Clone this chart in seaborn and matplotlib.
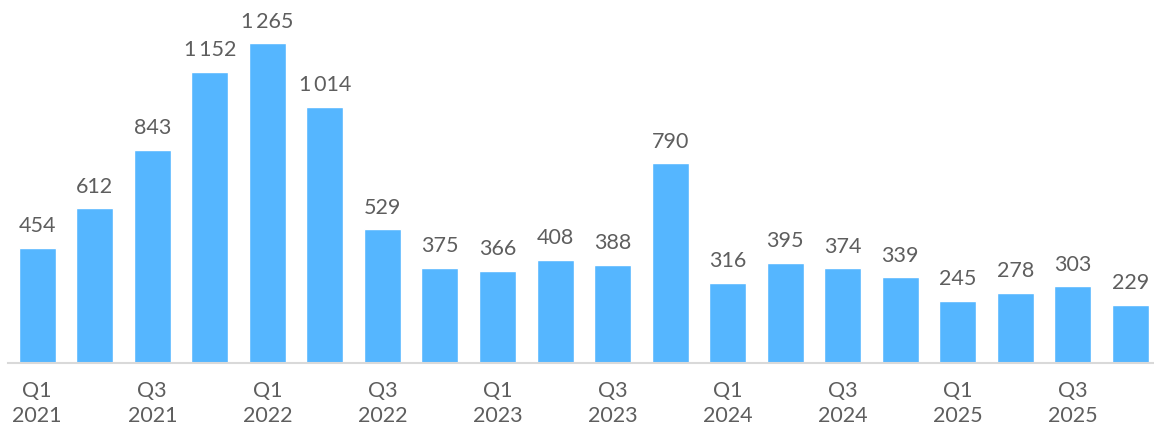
import matplotlib
matplotlib.use("Agg")
import matplotlib.pyplot as plt
import seaborn as sns
import pandas as pd

quarters = ["Q1 2021", "Q2 2021", "Q3 2021", "Q4 2021",
            "Q1 2022", "Q2 2022", "Q3 2022", "Q4 2022",
            "Q1 2023", "Q2 2023", "Q3 2023", "Q4 2023",
            "Q1 2024", "Q2 2024", "Q3 2024", "Q4 2024",
            "Q1 2025", "Q2 2025", "Q3 2025", "Q4 2025"]
values = [454, 612, 843, 1152, 1265, 1014, 529, 375, 366, 408,
          388, 790, 316, 395, 374, 339, 245, 278, 303, 229]
tick_labels = ["Q1\n2021", "", "Q3\n2021", "", "Q1\n2022", "", "Q3\n2022", "",
               "Q1\n2023", "", "Q3\n2023", "", "Q1\n2024", "", "Q3\n2024", "",
               "Q1\n2025", "", "Q3\n2025", ""]

sns.set_theme(style="white")
plt.rcParams['font.family'] = ['Lato', 'DejaVu Sans']

df = pd.DataFrame({"quarter": quarters, "value": values})

fig = plt.figure(figsize=(11.54, 4.28), dpi=100)
ax = fig.add_axes([0, 65 / 428, 1, 363 / 428])
sns.barplot(data=df, x="quarter", y="value", color="#55B6FF", width=0.643,
            saturation=1, ax=ax)

ax.set_xlim(-0.6465, -0.6465 + 1154 / 57.54)
ax.set_ylim(0, 1436.5)

text_color = "#5e5e5e"
for i, v in enumerate(values):
    lab = f"{v:,}".replace(",", "\u2009")
    ax.annotate(lab, (i, v), xytext=(0, 8.5), textcoords="offset points",
                ha="center", va="bottom", fontsize=15.5, color=text_color,
                fontweight="normal")

ax.set_xticks(range(len(quarters)))
ax.set_xticklabels(tick_labels, fontsize=15.5, color=text_color,
                   fontweight="normal", linespacing=1.3)
ax.tick_params(axis="x", length=0, pad=13)
ax.set_yticks([])
ax.set_xlabel("")
ax.set_ylabel("")
for s in ["top", "left", "right"]:
    ax.spines[s].set_visible(False)
ax.spines["bottom"].set_color("#d9d9d9")
ax.spines["bottom"].set_linewidth(1.5)
ax.spines["bottom"].set_bounds(-0.507, 20)

fig.savefig("out.png", dpi=100)
